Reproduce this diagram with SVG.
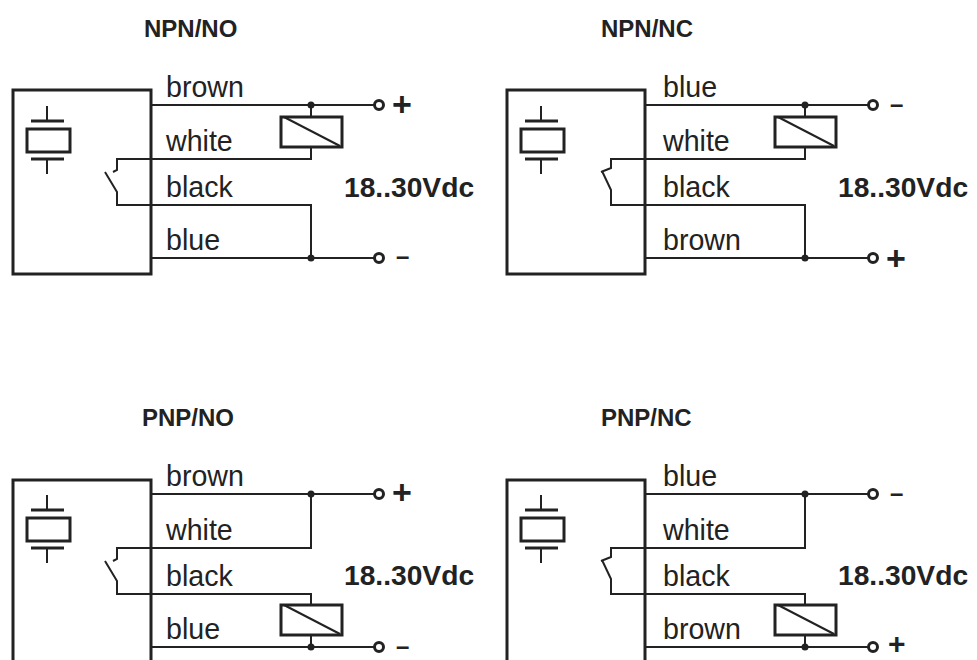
<svg xmlns="http://www.w3.org/2000/svg" width="977" height="660" viewBox="0 0 977 660">
<style>
text{font-family:"Liberation Sans",Arial,sans-serif;fill:#222}
.t{font-size:24px;font-weight:700}
.w{font-size:28.6px}
.v{font-size:28.2px;font-weight:700}
.s{font-size:34px;font-weight:700}
.m{font-size:24px;font-weight:700}
.b{fill:#fff;stroke:#222;stroke-width:3}
.l{fill:none;stroke:#222;stroke-width:2}
.p{fill:none;stroke:#222;stroke-width:3}
.c{fill:#fff;stroke:#222;stroke-width:3}
.d{fill:#222}
</style>
<defs>
<g id="xtal">
<path class="l" d="M47 106V121M47 159V174"/>
<path class="p" d="M31 121H64M31 159H64"/>
<rect class="p" x="27" y="129" width="43" height="23" fill="none"/>
</g>
<g id="relay">
<rect class="p" x="0" y="0" width="61" height="30"/>
<path class="l" d="M3 0L59 29"/>
</g>
</defs>
<rect width="977" height="660" fill="#fff"/>

<text class="t" x="144" y="37">NPN/NO</text>
<text class="t" x="601" y="37">NPN/NC</text>
<text class="t" x="142" y="426">PNP/NO</text>
<text class="t" x="601" y="426">PNP/NC</text>

<g id="sensor-npn-no">
<rect class="b" x="13" y="90" width="138" height="184"/>
<use href="#xtal"/>
<text class="w" x="166" y="97">brown</text><text class="w" x="166" y="151">white</text><text class="w" x="166" y="197">black</text><text class="w" x="166" y="250">blue</text>
</g>
<g id="sensor-npn-nc">
<rect class="b" x="507" y="90" width="138" height="184"/>
<use href="#xtal" x="494"/>
<text class="w" x="663" y="97">blue</text><text class="w" x="663" y="151">white</text><text class="w" x="663" y="197">black</text><text class="w" x="663" y="250">brown</text>
</g>
<g id="sensor-pnp-no">
<path class="b" d="M13 664V480H151V664"/>
<use href="#xtal" y="389"/>
<text class="w" x="166" y="486">brown</text><text class="w" x="166" y="540">white</text><text class="w" x="166" y="586">black</text><text class="w" x="166" y="639">blue</text>
</g>
<g id="sensor-pnp-nc">
<path class="b" d="M507 664V480H645V664"/>
<use href="#xtal" x="494" y="389"/>
<text class="w" x="663" y="486">blue</text><text class="w" x="663" y="540">white</text><text class="w" x="663" y="586">black</text><text class="w" x="663" y="639">brown</text>
</g>

<g id="connectors">
<path class="l" d="M151 105H375M311 105V117M311 147V159H117V170L113 172M105 172L117 192V205H311V258M151 258H375"/>
<path class="l" d="M645 105H869M805 105V117M805 147V159H611V168L601 172M602 171L611 190V205H805V258M645 258H869"/>
<path class="l" d="M151 494H375M311 494V548H117V559L113 561M105 561L117 581V594H311V605M311 635V647M151 647H375"/>
<path class="l" d="M645 494H869M805 494V548H611V557L601 561M602 560L611 579V594H805V605M805 635V647M645 647H869"/>
<g class="d">
<circle cx="311" cy="105" r="3.5"/><circle cx="311" cy="258" r="3.5"/>
<circle cx="805" cy="105" r="3.5"/><circle cx="805" cy="258" r="3.5"/>
<circle cx="311" cy="494" r="3.5"/><circle cx="311" cy="647" r="3.5"/>
<circle cx="805" cy="494" r="3.5"/><circle cx="805" cy="647" r="3.5"/>
</g>
</g>

<g id="relay-npn-no"><use href="#relay" x="281" y="117"/></g>
<g id="relay-npn-nc"><use href="#relay" x="775" y="117"/></g>
<g id="relay-pnp-no"><use href="#relay" x="281" y="605"/></g>
<g id="relay-pnp-nc"><use href="#relay" x="775" y="605"/></g>

<g id="supply-npn-no">
<circle class="c" cx="379" cy="105" r="4.5"/><circle class="c" cx="379" cy="258" r="4.5"/>
<text class="s" x="392" y="116">+</text>
<text class="m" x="396" y="264">–</text>
<text class="v" x="344" y="197">18..30Vdc</text>
</g>
<g id="supply-npn-nc">
<circle class="c" cx="873" cy="105" r="4.5"/><circle class="c" cx="873" cy="258" r="4.5"/>
<text class="m" x="890" y="112">–</text>
<text class="s" x="886" y="270">+</text>
<text class="v" x="838" y="197">18..30Vdc</text>
</g>
<g id="supply-pnp-no">
<circle class="c" cx="379" cy="494" r="4.5"/><circle class="c" cx="379" cy="647" r="4.5"/>
<text class="s" x="392" y="504">+</text>
<text class="m" x="396" y="654">–</text>
<text class="v" x="344" y="585">18..30Vdc</text>
</g>
<g id="supply-pnp-nc">
<circle class="c" cx="873" cy="494" r="4.5"/><circle class="c" cx="873" cy="647" r="4.5"/>
<text class="m" x="890" y="501">–</text>
<text class="s" x="888" y="653.5" style="font-size:30px">+</text>
<text class="v" x="838" y="585">18..30Vdc</text>
</g>
</svg>
